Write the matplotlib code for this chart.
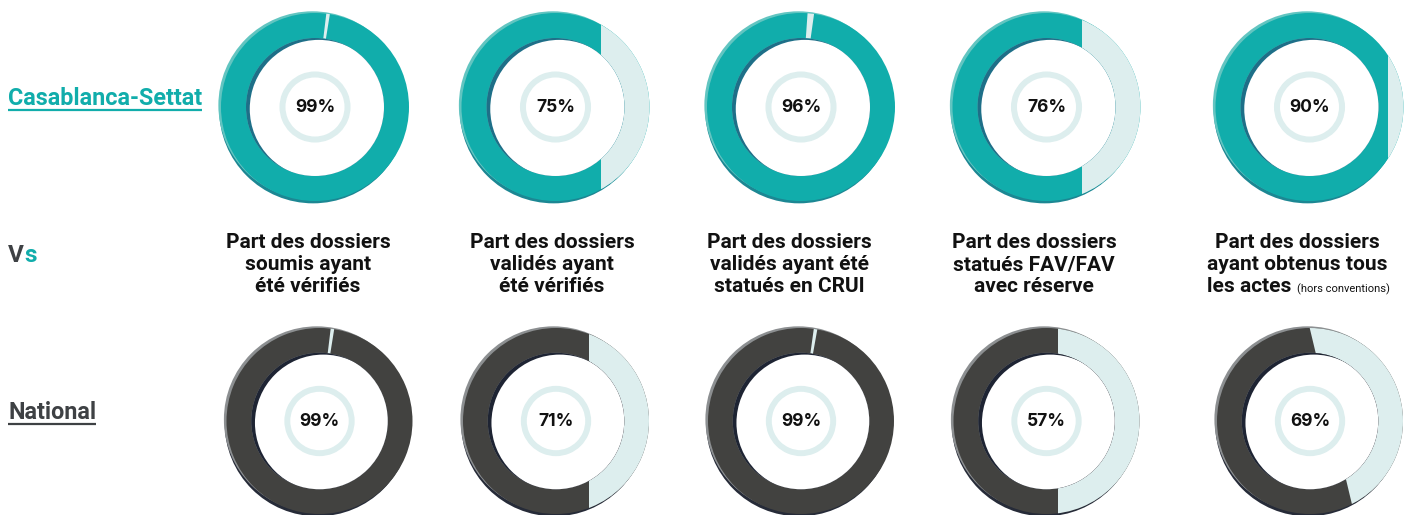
import matplotlib.pyplot as plt
from matplotlib.patches import Wedge, Circle, Polygon

# values printed in the middle of each ring
casa_pct = [99, 75, 96, 76, 90]
national_pct = [99, 71, 99, 57, 69]

# how the rest of each ring is cut off in the picture
# ("gap", angle from top, width) or ("chord", x offset, slope) in ring radius units
casa_cut = [("gap", 8, 2.2), ("chord", 0.484, 0.0), ("gap", 6, 4.0),
            ("chord", 0.378, 0.0), ("chord", 0.835, 0.0)]
national_cut = [("gap", 8, 2.2), ("chord", 0.355, 0.0), ("gap", 9, 2.2),
                ("chord", 0.124, 0.0), ("chord", 0.2375, -0.2375)]

cat_lines = [
    ["Part des dossiers", "soumis ayant", "été vérifiés"],
    ["Part des dossiers", "validés ayant", "été vérifiés"],
    ["Part des dossiers", "validés ayant été", "statués en CRUI"],
    ["Part des dossiers", "statués FAV/FAV", "avec réserve"],
    ["Part des dossiers", "ayant obtenus tous", "les actes"],
]
note = "(hors conventions)"

TEAL = "#11ADAB"
GREY = "#424240"
LIGHT = "#DDEEEE"
R_IN = 0.734

COND = ["Roboto", "DejaVu Sans"]

fig = plt.figure(figsize=(14.08, 5.15), dpi=100)
fig.patch.set_facecolor("white")

# one axes in pixel units for the text around the rings
ax0 = fig.add_axes([0, 0, 1, 1])
ax0.set_xlim(0, 1408)
ax0.set_ylim(515, 0)
ax0.axis("off")


def draw_donut(cx, cy, r, pct, cut, main, hi, shadow, inner_dark):
    lim = 100 / r
    ax = fig.add_axes([(cx - 100) / 1408, 1 - (cy + 100) / 515, 200 / 1408, 200 / 515])
    ax.set_xlim(-lim, lim)
    ax.set_ylim(-lim, lim)
    ax.axis("off")

    # fake 3d edge behind the ring
    ax.add_patch(Circle((-0.02, -0.025), 1.0, color=shadow, lw=0))
    ax.add_patch(Circle((-0.028, 0.018), 1.0, color=hi, lw=0))
    ax.add_patch(Wedge((0, 0), 1.0, 0, 360, width=1 - R_IN, color=main, lw=0))

    kind, p1, p2 = cut
    if kind == "chord":
        rest = Wedge((0, 0), 1.0, 0, 360, width=1 - R_IN, color=LIGHT, lw=0)
        ax.add_patch(rest)
        clip = Polygon([(p1 + p2 * 1.3, 1.3), (2, 1.3), (2, -1.3), (p1 - p2 * 1.3, -1.3)],
                       closed=True, transform=ax.transData)
        rest.set_clip_path(clip)
    else:
        th = 90 - p1
        ax.add_patch(Wedge((0, 0), 1.0, th - p2 / 2, th + p2 / 2, width=1 - R_IN,
                           color=LIGHT, lw=0))

    # hole, with a dark inner wall on the upper left
    hole = Circle((0, 0), R_IN, color=inner_dark, lw=0)
    ax.add_patch(hole)
    cover = Circle((0.04, -0.02), R_IN, color="white", lw=0)
    ax.add_patch(cover)
    cover.set_clip_path(hole)

    ax.add_patch(Wedge((0, 0), 0.378, 0, 360, width=0.064, color=LIGHT, lw=0))
    ax.text(0, 0, f"{pct}%", ha="center", va="center", fontsize=12.5,
            fontweight="bold", family=["Inter", "DejaVu Sans"], color="#111111")


top_x = [315, 555.5, 801, 1046.5, 1309.5]
bot_x = [319.5, 556, 801, 1046.5, 1310]
for i in range(5):
    draw_donut(top_x[i], 107, 94, casa_pct[i], casa_cut[i],
               TEAL, "#62C5C1", "#1C8793", "#1E6F88")
    draw_donut(bot_x[i], 421, 93, national_pct[i], national_cut[i],
               GREY, "#8C8F91", "#262B38", "#1E2433")

# category labels between the two rows
label_x = [308, 552, 789, 1034, 1297]
line_y = [243, 265, 287]
for i, lines in enumerate(cat_lines):
    for j, s in enumerate(lines):
        if i == 4 and j == 2:
            t = ax0.text(label_x[i] - 48, line_y[j], s, ha="center", va="center",
                         fontsize=15, fontweight="bold", family=COND, color="#111111")
            ax0.annotate(note, xy=(1, 0), xycoords=t, xytext=(4, 1),
                         textcoords="offset points", ha="left", va="bottom",
                         fontsize=8, family=COND, color="#111111")
        else:
            ax0.text(label_x[i], line_y[j], s, ha="center", va="center",
                     fontsize=15, fontweight="bold", family=COND, color="#111111")

# row names on the left
t_casa = ax0.text(8, 105, "Casablanca-Settat", ha="left", va="baseline",
                  fontsize=16.8, fontweight="bold", family=COND, color=TEAL)
t_v = ax0.text(8, 262, "V", ha="left", va="baseline", fontsize=17.5,
               fontweight="bold", family=COND, color="#3E4144")
ax0.annotate("s", xy=(1, 0), xycoords=t_v, xytext=(0.3, 0), textcoords="offset points",
             ha="left", va="bottom", fontsize=17.5, fontweight="bold", family=COND,
             color=TEAL)
t_nat = ax0.text(8, 419, "National", ha="left", va="baseline", fontsize=16.8,
                 fontweight="bold", family=COND, color="#3E4144")

fig.canvas.draw()
inv = ax0.transData.inverted()
for t, y, c in [(t_casa, 109.5, TEAL), (t_nat, 423.5, "#3E4144")]:
    bb = t.get_window_extent().transformed(inv)
    ax0.plot([bb.x0, bb.x1], [y, y], color=c, lw=1.6, solid_capstyle="butt")

fig.savefig("out.png", dpi=100, facecolor="white")
